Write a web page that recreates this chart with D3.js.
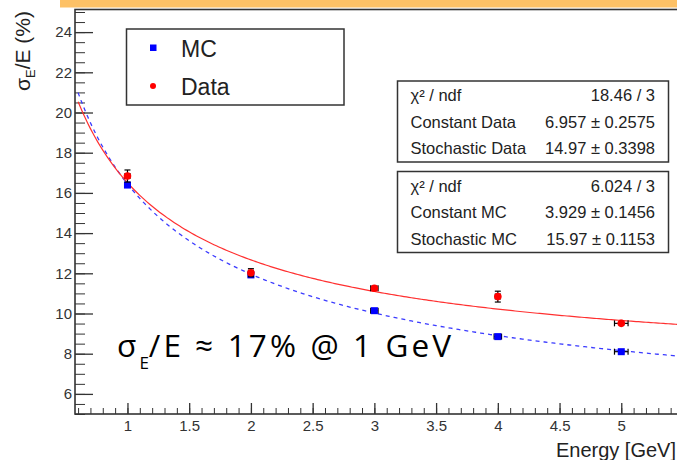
<!DOCTYPE html>
<html>
<head>
<script src="https://d3js.org/d3.v7.min.js"></script>
<style>
  body { margin: 0; background: #fff; }
  text { font-family: 'Liberation Sans', Arial, sans-serif; fill: #222; }
  .tick text { font-size: 15px; fill: #333; }
</style>
</head>
<body>
<svg id="chart" width="677" height="460"></svg>
<script>
// beam energies and measured resolution (%)
var energies = [1, 2, 3, 4, 5];
var mcVal   = [16.39, 11.92, 10.14, 8.85, 8.10];
var mcErrY  = [0.10, 0.10, 0.08, 0.06, 0.06];
var mcErrX  = [0.02, 0.02, 0.03, 0.03, 0.055];
var dataVal  = [16.84, 12.03, 11.26, 10.84, 9.51];
var dataErrY = [0.30, 0.20, 0.10, 0.27, 0.06];
var dataErrX = [0.02, 0.02, 0.03, 0.02, 0.055];

// fit results shown in the stat boxes
var fitData = { chi: "18.46 / 3", c: 6.957, cErr: "0.2575", s: 14.97, sErr: "0.3398" };
var fitMC   = { chi: "6.024 / 3", c: 3.929, cErr: "0.1456", s: 15.97, sErr: "0.1153" };

var xMajor = [0.5, 1, 1.5, 2, 2.5, 3, 3.5, 4, 4.5, 5, 5.5];
var yMajor = [6, 8, 10, 12, 14, 16, 18, 20, 22, 24];

var svg = d3.select("#chart");

var x = d3.scaleLinear().domain([0.575, 5.5]).range([75, 683]);
var y = d3.scaleLinear().domain([5, 25.1]).range([414, 10]);

// orange strip at the top
svg.append("rect").attr("x", 60).attr("y", 0).attr("width", 617).attr("height", 7.5)
   .attr("fill", "#fdc166");

// minor ticks
svg.append("g").attr("transform", "translate(75,0)")
   .call(d3.axisLeft(y).tickValues(d3.range(5, 25.1, 0.5)).tickSizeInner(-10).tickSizeOuter(0).tickFormat(""))
   .call(g => g.select(".domain").remove())
   .selectAll("line").attr("stroke", "#333");
svg.append("g").attr("transform", "translate(0,414)")
   .call(d3.axisBottom(x).tickValues(d3.range(0.6, 5.5, 0.1)).tickSizeInner(-6).tickSizeOuter(0).tickFormat(""))
   .call(g => g.select(".domain").remove())
   .selectAll("line").attr("stroke", "#333");

// major ticks
svg.append("g").attr("transform", "translate(75,0)")
   .call(d3.axisLeft(y).tickValues(yMajor).tickSizeInner(-18).tickSizeOuter(0).tickPadding(3))
   .call(g => g.select(".domain").remove())
   .call(g => g.selectAll("line").attr("stroke", "#333").attr("stroke-width", 1.3));
svg.append("g").attr("transform", "translate(0,414)")
   .call(d3.axisBottom(x).tickValues(xMajor.filter(v => v >= 0.575 && v <= 5.45)).tickSizeInner(-11).tickSizeOuter(0).tickPadding(6).tickFormat(d3.format("")))
   .call(g => g.select(".domain").remove())
   .call(g => g.selectAll("line").attr("stroke", "#333").attr("stroke-width", 1.3));

// frame
svg.append("rect").attr("x", 75).attr("y", 9.5).attr("width", 640).attr("height", 404.5)
   .attr("fill", "none").attr("stroke", "#333").attr("stroke-width", 1.6);

// axis titles
var yl = svg.append("text").attr("transform", "translate(30,51) rotate(-90)")
   .attr("text-anchor", "middle").style("font-size", "21px");
yl.append("tspan").text("σ");
yl.append("tspan").attr("dy", 5).style("font-size", "13px").text("E");
yl.append("tspan").attr("dy", -5).text("/E (%)");

svg.append("text").attr("x", 676).attr("y", 457).attr("text-anchor", "end")
   .style("font-size", "20px").text("Energy [GeV]");

// fit curves
function reso(f) { return e => Math.sqrt(f.s * f.s / e + f.c * f.c); }
var grid = d3.range(0.6, 5.6, 0.02);
var line = d3.line().x(d => x(d[0])).y(d => y(d[1]));
svg.append("clipPath").attr("id", "plotclip").append("rect")
   .attr("x", 75).attr("y", 10).attr("width", 620).attr("height", 404);
svg.append("path").datum(grid.map(e => [e, reso(fitMC)(e)]))
   .attr("d", line).attr("fill", "none").attr("stroke", "#3b3bff").attr("stroke-width", 1.3)
   .attr("stroke-dasharray", "4,4").attr("clip-path", "url(#plotclip)");
svg.append("path").datum(grid.map(e => [e, reso(fitData)(e)]))
   .attr("d", line).attr("fill", "none").attr("stroke", "#ff3030").attr("stroke-width", 1.2)
   .attr("clip-path", "url(#plotclip)");

// error bars and markers
function points(vals, ex, ey, marker, color) {
  var g = svg.append("g");
  energies.forEach(function(e, i) {
    var v = vals[i];
    g.append("line").attr("x1", x(e - ex[i])).attr("x2", x(e + ex[i])).attr("y1", y(v)).attr("y2", y(v))
     .attr("stroke", "#000").attr("stroke-width", 1.2);
    g.append("line").attr("x1", x(e)).attr("x2", x(e)).attr("y1", y(v - ey[i])).attr("y2", y(v + ey[i]))
     .attr("stroke", "#000").attr("stroke-width", 1.2);
    [e - ex[i], e + ex[i]].forEach(function(xx) {
      g.append("line").attr("x1", x(xx)).attr("x2", x(xx)).attr("y1", y(v) - 3).attr("y2", y(v) + 3)
       .attr("stroke", "#000").attr("stroke-width", 1.2);
    });
    [v - ey[i], v + ey[i]].forEach(function(yy) {
      g.append("line").attr("x1", x(e) - 3).attr("x2", x(e) + 3).attr("y1", y(yy)).attr("y2", y(yy))
       .attr("stroke", "#000").attr("stroke-width", 1.2);
    });
    if (marker === "square") {
      g.append("rect").attr("x", x(e) - 3.5).attr("y", y(v) - 3.5).attr("width", 7).attr("height", 7).attr("fill", color);
    } else {
      g.append("circle").attr("cx", x(e)).attr("cy", y(v)).attr("r", 3.8).attr("fill", color);
    }
  });
}
points(mcVal, mcErrX, mcErrY, "square", "#0000ff");
points(dataVal, dataErrX, dataErrY, "circle", "#ff0000");

// legend
svg.append("rect").attr("x", 126.5).attr("y", 29).attr("width", 217.5).attr("height", 76)
   .attr("fill", "#fff").attr("stroke", "#333").attr("stroke-width", 1.5);
svg.append("rect").attr("x", 150).attr("y", 44.5).attr("width", 6.5).attr("height", 6.5).attr("fill", "#0000ff");
svg.append("circle").attr("cx", 153).attr("cy", 86).attr("r", 3).attr("fill", "#ff0000");
svg.append("text").attr("x", 181).attr("y", 56.5).style("font-size", "23px").text("MC");
svg.append("text").attr("x", 181).attr("y", 95).style("font-size", "23px").text("Data");

// stat boxes
function statBox(top, f, name) {
  svg.append("rect").attr("x", 397.5).attr("y", top).attr("width", 271).attr("height", 81)
     .attr("fill", "#fff").attr("stroke", "#333").attr("stroke-width", 1.5);
  var rows = [["χ² / ndf", f.chi], ["Constant " + name, f.c + " ± " + f.cErr], ["Stochastic " + name, f.s + " ± " + f.sErr]];
  rows.forEach(function(r, i) {
    var by = top + 20 + i * 26.6;
    svg.append("text").attr("x", 410.5).attr("y", by).style("font-size", "16.5px").text(r[0]);
    svg.append("text").attr("x", 655).attr("y", by).attr("text-anchor", "end").style("font-size", "16.5px").text(r[1]);
  });
}
statBox(81, fitData, "Data");
statBox(171.5, fitMC, "MC");

// annotation
var ann = svg.append("text").attr("x", 117).attr("y", 356.5)
   .style("font-family", "'Open Sans', sans-serif").style("font-size", "31.5px")
   .style("letter-spacing", "3.1px").style("fill", "#000");
ann.append("tspan").text("σ");
ann.append("tspan").attr("dy", 12).style("font-size", "17px").style("letter-spacing", "0px").text("E");
ann.append("tspan").attr("dy", -12).text("/E ≈ 17% @ 1 GeV");
</script>
</body>
</html>
